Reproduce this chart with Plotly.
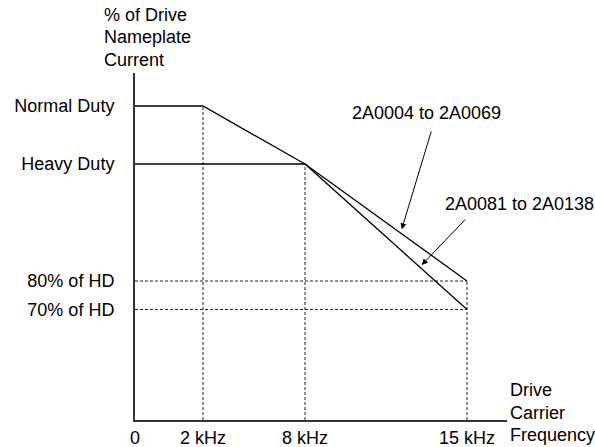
import plotly.graph_objects as go

# Schematic chart: positions are in schematic units (not to scale)
freq_labels = ["0", "2 kHz", "8 kHz", "15 kHz"]
freq_pos = [0, 68, 170, 332]

level_labels = ["Normal Duty", "Heavy Duty", "80% of HD", "70% of HD"]
level_pos = [314, 256, 139, 110.5]

ytitle_lines = ["% of Drive", "Nameplate", "Current"]
xtitle_lines = ["Drive", "Carrier", "Frequency"]

ND, HD, HD80, HD70 = level_pos
F0, F2, F8, F15 = freq_pos

# Derating curves
small_x = [F0, F2, F8, F15]
small_y = [ND, ND, HD, HD80]
large_x = [F0, F8, F15]
large_y = [HD, HD, HD70]

XR = [0, 372]
YR = [0, 347]
FONT = "Liberation Sans, Arial, sans-serif"
fig = go.Figure()

# dashed reference lines
dash_style = dict(color="#222", width=1, dash="3px,2px")
for fx, ly in [(F2, ND), (F8, HD), (F15, HD80)]:
    fig.add_trace(go.Scatter(x=[fx, fx], y=[0, ly], mode="lines", line=dash_style,
                             hoverinfo="skip", showlegend=False))
for ly in [HD80, HD70]:
    fig.add_trace(go.Scatter(x=[F0, F15], y=[ly, ly], mode="lines", line=dash_style,
                             hoverinfo="skip", showlegend=False))

fig.add_trace(go.Scatter(x=small_x, y=small_y, mode="lines", name="2A0004 to 2A0069",
                         line=dict(color="black", width=1.3), showlegend=False))
fig.add_trace(go.Scatter(x=large_x, y=large_y, mode="lines", name="2A0081 to 2A0138",
                         line=dict(color="black", width=1.3), showlegend=False))

def px(x):
    return x / XR[1]

def py(y):
    return y / YR[1]

tfont = dict(size=18, color="black", family=FONT)

# labels
fig.add_annotation(x=px(291), y=py(307), xref="paper", yref="paper", text="2A0004 to 2A0069",
                   showarrow=False, xanchor="center", yanchor="middle", font=tfont)
fig.add_annotation(x=px(308), y=py(216), xref="paper", yref="paper", text="2A0081 to 2A0138",
                   showarrow=False, xanchor="left", yanchor="middle", font=tfont)
# pointer arrows
fig.add_annotation(x=266.7, y=190.7, ax=296.7, ay=290, axref="x", ayref="y", text="",
                   showarrow=True, arrowhead=2, arrowsize=1.2, arrowwidth=1, arrowcolor="black")
fig.add_annotation(x=286.7, y=155, ax=331.7, ay=202, axref="x", ayref="y", text="",
                   showarrow=True, arrowhead=2, arrowsize=1.2, arrowwidth=1, arrowcolor="black")

# axis titles (one annotation per line for tighter line spacing)
for i, t in enumerate(ytitle_lines):
    fig.add_annotation(x=px(-33.3), y=py(405 - 22.3 * i), xref="paper", yref="paper",
                       text=t, showarrow=False, xanchor="left", yanchor="middle", font=tfont)
for i, t in enumerate(xtitle_lines):
    fig.add_annotation(x=px(373), y=py(30 - 22.5 * i), xref="paper", yref="paper",
                       text=t, showarrow=False, xanchor="left", yanchor="middle", font=tfont)

fig.update_layout(
    width=595, height=447,
    margin=dict(l=135, r=88, t=73, b=27, autoexpand=False),
    paper_bgcolor="white", plot_bgcolor="white",
    font=dict(family=FONT, size=18, color="black"),
    showlegend=False,
    xaxis=dict(range=XR, showgrid=False, zeroline=False, showline=True, automargin=False,
               linecolor="#333", linewidth=2, tickvals=freq_pos, ticktext=freq_labels,
               ticks="", ticklabelstandoff=0, tickfont=dict(size=18, color="black")),
    yaxis=dict(range=YR, showgrid=False, zeroline=False, showline=True, automargin=False,
               linecolor="#333", linewidth=2, tickvals=level_pos, ticktext=level_labels,
               ticks="", ticklabelstandoff=15, tickfont=dict(size=18, color="black")),
)

fig.write_html("out.html", config={"displayModeBar": False},
               post_script="document.body.style.margin='0px';")
